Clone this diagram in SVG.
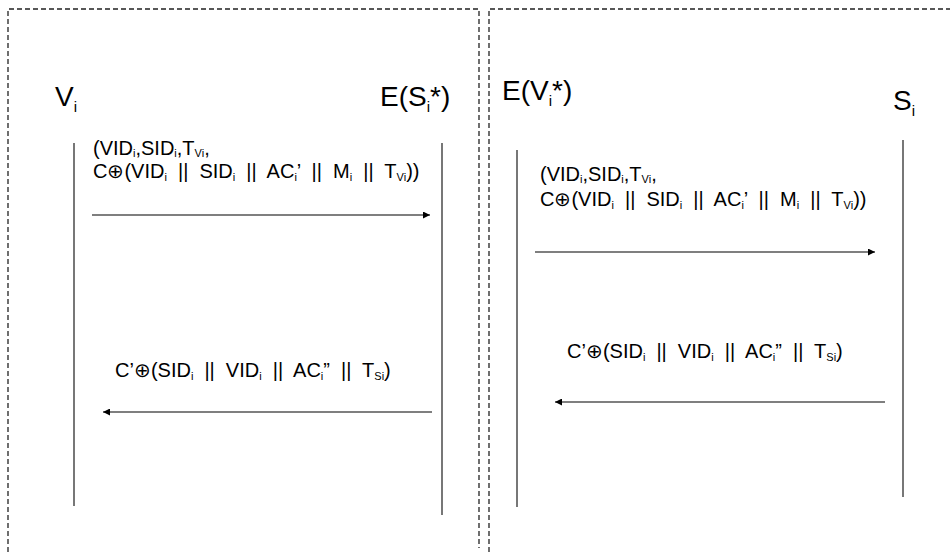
<svg xmlns="http://www.w3.org/2000/svg" width="950" height="552" viewBox="0 0 950 552">
  <style>
    .frame { fill: none; stroke: #222; stroke-width: 1.3; stroke-dasharray: 5 3; }
    .life { stroke: #555; stroke-width: 1.6; }
    .msg { stroke: #000; stroke-width: 1.2; fill: none; }
    .lbl { font-family: "Liberation Sans", Arial, sans-serif; font-size: 28px; fill: #000; }
    .txt { font-family: "Liberation Sans", Arial, sans-serif; font-size: 20px; word-spacing: 5.5px; fill: #000; }
    .sub { font-size: 11px; }
    .lsub { font-size: 15px; }
  </style>
  <defs>
    <marker id="arrow" viewBox="0 0 10 10" refX="10" refY="5" markerWidth="10" markerHeight="7" markerUnits="userSpaceOnUse" orient="auto">
      <path d="M0,0 L10,5 L0,10 z" fill="#000"/>
    </marker>
  </defs>

  <!-- dashed frames -->
  <g id="frames">
    <path class="frame" d="M8,560 L8,9 L479,9 L479,548"/>
    <path class="frame" d="M489,560 L489,9 L960,9"/>
  </g>

  <!-- participants -->
  <g id="node-vi">
    <text class="lbl" x="55" y="106">V<tspan class="lsub" dy="6">i</tspan></text>
    <line class="life" x1="74" y1="143" x2="74" y2="506"/>
  </g>
  <g id="node-esi">
    <text class="lbl" x="380" y="106">E(S<tspan class="lsub" dy="6">i</tspan><tspan dy="-6">*)</tspan></text>
    <line class="life" x1="442" y1="143" x2="442" y2="515"/>
  </g>
  <g id="node-evi">
    <text class="lbl" x="502" y="100">E(V<tspan class="lsub" dy="6">i</tspan><tspan dy="-6">*)</tspan></text>
    <line class="life" x1="517" y1="150" x2="517" y2="507"/>
  </g>
  <g id="node-si">
    <text class="lbl" x="893" y="110">S<tspan class="lsub" dy="6">i</tspan></text>
    <line class="life" x1="903" y1="140" x2="903" y2="497"/>
  </g>

  <!-- messages -->
  <g id="connectors">
    <line class="msg" x1="92" y1="215" x2="430" y2="215" marker-end="url(#arrow)"/>
    <line class="msg" x1="432" y1="412" x2="103" y2="412" marker-end="url(#arrow)"/>
    <line class="msg" x1="535" y1="252" x2="875" y2="252" marker-end="url(#arrow)"/>
    <line class="msg" x1="885" y1="402" x2="555" y2="402" marker-end="url(#arrow)"/>
  </g>

  <g id="labels">
    <text class="txt" x="93" y="155">(VID<tspan class="sub" dy="2">i</tspan><tspan dy="-2">,SID</tspan><tspan class="sub" dy="2">i</tspan><tspan dy="-2">,T</tspan><tspan class="sub" dy="2">Vi</tspan><tspan dy="-2">,</tspan></text>
    <text class="txt" x="93" y="178">C⊕(VID<tspan class="sub" dy="3">i</tspan><tspan dy="-3"> || SID</tspan><tspan class="sub" dy="3">i</tspan><tspan dy="-3"> || AC</tspan><tspan class="sub" dy="3">i</tspan><tspan dy="-3">’ || M</tspan><tspan class="sub" dy="3">i</tspan><tspan dy="-3"> || T</tspan><tspan class="sub" dy="3">Vi</tspan><tspan dy="-3">))</tspan></text>
    <text class="txt" x="115" y="377">C’⊕(SID<tspan class="sub" dy="3">i</tspan><tspan dy="-3"> || VID</tspan><tspan class="sub" dy="3">i</tspan><tspan dy="-3"> || AC</tspan><tspan class="sub" dy="3">i</tspan><tspan dy="-3">” || T</tspan><tspan class="sub" dy="3">Si</tspan><tspan dy="-3">)</tspan></text>

    <text class="txt" x="540" y="181">(VID<tspan class="sub" dy="2">i</tspan><tspan dy="-2">,SID</tspan><tspan class="sub" dy="2">i</tspan><tspan dy="-2">,T</tspan><tspan class="sub" dy="2">Vi</tspan><tspan dy="-2">,</tspan></text>
    <text class="txt" x="540" y="206">C⊕(VID<tspan class="sub" dy="3">i</tspan><tspan dy="-3"> || SID</tspan><tspan class="sub" dy="3">i</tspan><tspan dy="-3"> || AC</tspan><tspan class="sub" dy="3">i</tspan><tspan dy="-3">’ || M</tspan><tspan class="sub" dy="3">i</tspan><tspan dy="-3"> || T</tspan><tspan class="sub" dy="3">Vi</tspan><tspan dy="-3">))</tspan></text>
    <text class="txt" x="567" y="358">C’⊕(SID<tspan class="sub" dy="3">i</tspan><tspan dy="-3"> || VID</tspan><tspan class="sub" dy="3">i</tspan><tspan dy="-3"> || AC</tspan><tspan class="sub" dy="3">i</tspan><tspan dy="-3">” || T</tspan><tspan class="sub" dy="3">Si</tspan><tspan dy="-3">)</tspan></text>
  </g>
</svg>
